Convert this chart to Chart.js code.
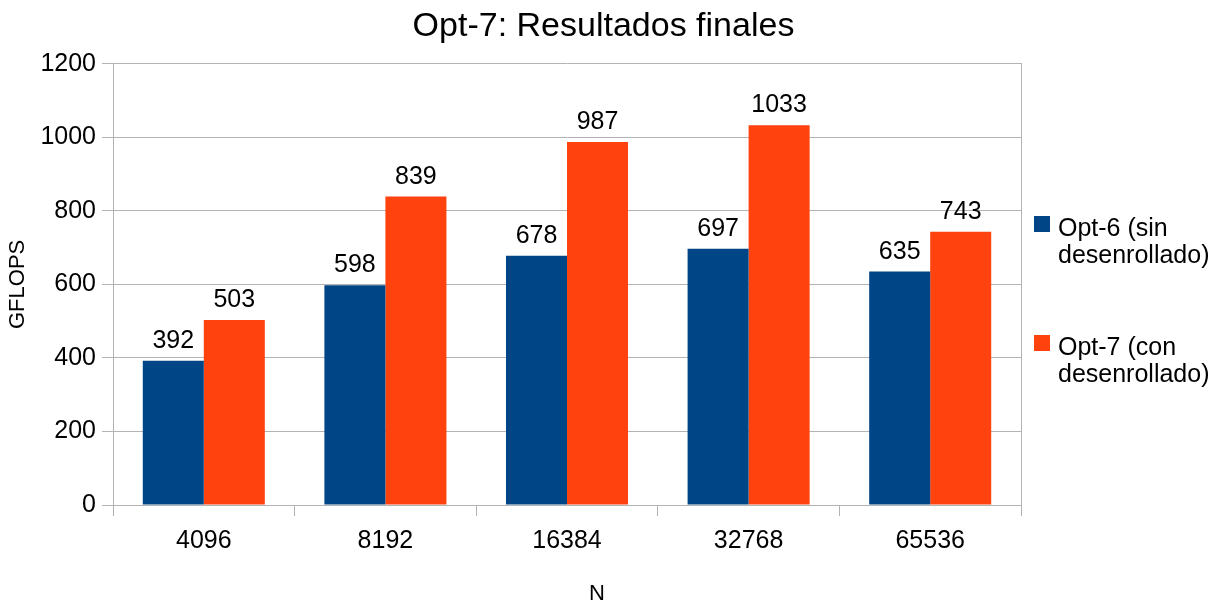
<!DOCTYPE html>
<html>
<head>
<meta charset="utf-8">
<script src="https://cdn.jsdelivr.net/npm/chart.js@4.4.1/dist/chart.umd.min.js"></script>
<style>
  html, body { margin: 0; padding: 0; background: #fff; }
  #wrap { width: 1222px; height: 602px; }
</style>
</head>
<body>
<div id="wrap"><canvas id="chart" width="1222" height="602"></canvas></div>
<script>
// chart data
const categories = ['4096', '8192', '16384', '32768', '65536'];
const seriesNames = [['Opt-6 (sin', 'desenrollado)'], ['Opt-7 (con', 'desenrollado)']];
const opt6Values = [392, 598, 678, 697, 635];
const opt7Values = [503, 839, 987, 1033, 743];
const yTicks = [0, 200, 400, 600, 800, 1000, 1200];

const colors = ['#004586', '#ff420e'];
const fontFamily = '"Liberation Sans", Arial, sans-serif';

// values printed above each bar
const valueLabels = {
    id: 'valueLabels',
    afterDatasetsDraw(chart) {
        const ctx = chart.ctx;
        ctx.save();
        ctx.font = '25px ' + fontFamily;
        ctx.fillStyle = '#000';
        ctx.textAlign = 'center';
        ctx.textBaseline = 'alphabetic';
        chart.data.datasets.forEach((ds, i) => {
            chart.getDatasetMeta(i).data.forEach((bar, j) => {
                ctx.fillText(String(ds.data[j]), bar.x, bar.y - 13);
            });
        });
        ctx.restore();
    },
};

// two-line legend on the right and the "N" axis name
const legendAndAxisName = {
    id: 'legendAndAxisName',
    afterDraw(chart) {
        const ctx = chart.ctx;
        const area = chart.chartArea;
        ctx.save();
        ctx.font = '25px ' + fontFamily;
        ctx.textBaseline = 'alphabetic';
        ctx.textAlign = 'left';
        const x0 = area.right + 13;
        const tops = [216, 335];
        seriesNames.forEach((lines, i) => {
            ctx.fillStyle = colors[i];
            ctx.fillRect(x0, tops[i], 16, 16);
            ctx.fillStyle = '#000';
            lines.forEach((line, k) => {
                ctx.fillText(line, x0 + 24, tops[i] + 20 + k * 27);
            });
        });

        ctx.font = '22px ' + fontFamily;
        ctx.textAlign = 'center';
        ctx.fillText('N', 597, 600);
        ctx.restore();
    },
};

new Chart(document.getElementById('chart'), {
    type: 'bar',
    data: {
        labels: categories,
        datasets: [
            {
                label: seriesNames[0].join(' '),
                data: opt6Values,
                backgroundColor: colors[0],
                categoryPercentage: 0.672,
                barPercentage: 1.0,
            },
            {
                label: seriesNames[1].join(' '),
                data: opt7Values,
                backgroundColor: colors[1],
                categoryPercentage: 0.672,
                barPercentage: 1.0,
            },
        ],
    },
    options: {
        responsive: false,
        animation: false,
        layout: { padding: { left: 0, right: 15, top: 0, bottom: 0 } },
        plugins: {
            legend: { display: false },
            tooltip: { enabled: false },
            title: {
                display: true,
                text: 'Opt-7: Resultados finales',
                color: '#000',
                font: { family: fontFamily, size: 34, weight: 'normal' },
                padding: { top: 6, bottom: 17 },
            },
        },
        scales: {
            x: {
                grid: {
                    drawOnChartArea: false,
                    color: '#b3b3b3',
                    tickLength: 11,
                    offset: true,
                },
                border: { color: '#b3b3b3' },
                ticks: {
                    color: '#000',
                    padding: 10,
                    font: { family: fontFamily, size: 25 },
                },
                afterFit(scale) { scale.height = 97; },
            },
            y: {
                min: 0,
                max: 1200,
                afterBuildTicks(scale) {
                    scale.ticks = yTicks.map((v) => ({ value: v }));
                },
                grid: { color: '#b3b3b3', tickLength: 11 },
                border: { color: '#b3b3b3' },
                ticks: {
                    color: '#000',
                    padding: 6,
                    font: { family: fontFamily, size: 25 },
                    callback: (v) => String(v),
                },
                title: {
                    display: true,
                    text: 'GFLOPS',
                    color: '#000',
                    font: { family: fontFamily, size: 22 },
                    padding: { top: 5, bottom: 0 },
                },
                afterFit(scale) { scale.width = 113; },
            },
            // right edge of the plot frame; its box leaves room for the legend
            yRight: {
                position: 'right',
                min: 0,
                max: 1200,
                grid: { drawOnChartArea: false, drawTicks: false },
                border: { color: '#b3b3b3' },
                ticks: { display: false },
                afterFit(scale) { scale.width = 186; },
            },
        },
    },
    plugins: [valueLabels, legendAndAxisName],
});
</script>
</body>
</html>
